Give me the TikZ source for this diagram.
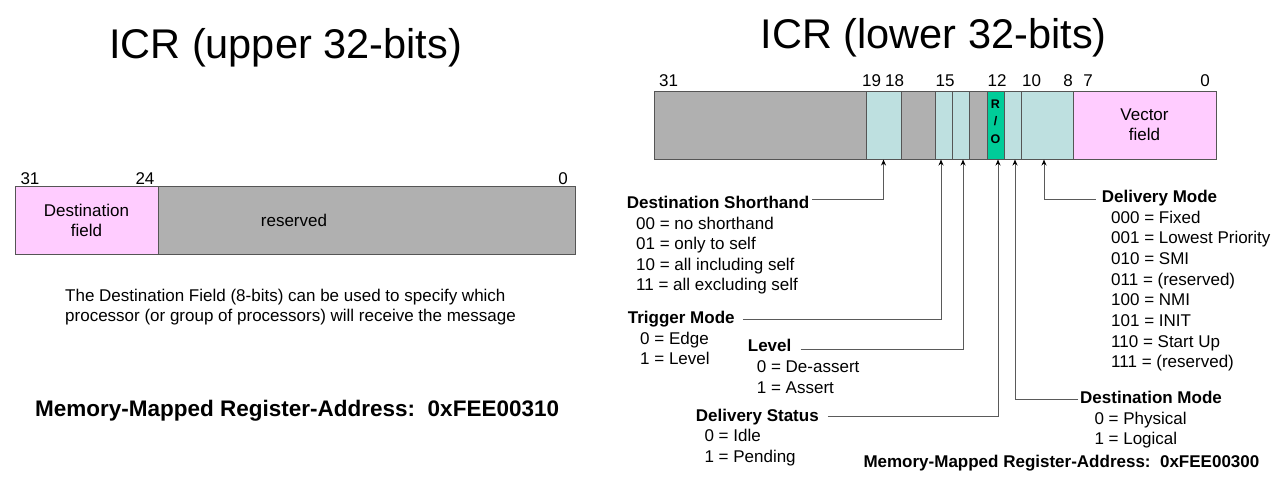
\documentclass[tikz,border=0pt]{standalone}
\usepackage{fontspec}
\setmainfont{Liberation Sans}
\usetikzlibrary{arrows.meta}
\definecolor{regGray}{HTML}{B0B0B0}
\definecolor{regCyan}{HTML}{BEE0E0}
\definecolor{regPink}{HTML}{FFCCFF}
\definecolor{regGreen}{HTML}{00CC99}
\definecolor{edgeC}{HTML}{555555}
\definecolor{lineC}{HTML}{5A5A5A}
\begin{document}
\begin{tikzpicture}[x=1pt,y=-1pt,
  cell/.style={draw=edgeC, line width=1pt, minimum height=68pt, inner sep=0pt, outer sep=0pt,
    align=center, font=\fontsize{17}{20}\selectfont},
  txt/.style={anchor=base west, inner sep=0pt, font=\fontsize{17}{20}\selectfont},
  btxt/.style={anchor=base west, inner sep=0pt, font=\fontsize{17}{20}\selectfont\bfseries},
  bitlbl/.style={anchor=base, inner sep=0pt, font=\fontsize{17}{20}\selectfont},
  titletxt/.style={anchor=base, inner sep=0pt, font=\fontsize{41.5}{48}\selectfont},
  arr/.style={draw=lineC, line width=1pt, shorten >=0.5pt,
    -{Stealth[length=6pt,width=5pt,color=black]}}
]
\useasboundingbox (0,0) rectangle (1282,482);

% titles
\node[titletxt] (t1) at (285.5,58) {ICR (upper 32-bits)};
\node[titletxt] (t2) at (933.7,48) {ICR (lower 32-bits)};

% ---------- upper register ----------
\node[cell, fill=regPink, minimum width=143pt] (l1) at (86.5,220) {Destination\\field};
\node[cell, fill=regGray, minimum width=417pt] (l2) at (366.5,220) {};
\node[bitlbl] (lres) at (294,226) {reserved};
\node[bitlbl] (lb31) at (30,184.3) {31};
\node[bitlbl] (lb24) at (145,184.3) {24};
\node[bitlbl] (lb0) at (563,184.3) {0};

\node[txt] (desc1) at (65,301) {The Destination Field (8-bits) can be used to specify which};
\node[txt] (desc2) at (65,321) {processor (or group of processors) will receive the message};
\node[anchor=base west, inner sep=0pt, font=\fontsize{22.5}{26}\selectfont\bfseries] (mmr1) at (35,416) {Memory-Mapped Register-Address:\ \ 0xFEE00310};

% ---------- lower register ----------
\node[cell, fill=regGray, minimum width=212pt] (c1) at (760,125) {};
\node[cell, fill=regCyan, minimum width=35pt] (c2) at (883.5,125) {};
\node[cell, fill=regGray, minimum width=34pt] (c3) at (918,125) {};
\node[cell, fill=regCyan, minimum width=17pt] (c4) at (943.5,125) {};
\node[cell, fill=regCyan, minimum width=17pt] (c5) at (960.5,125) {};
\node[cell, fill=regGray, minimum width=18pt] (c6) at (978,125) {};
\node[cell, fill=regGreen, minimum width=17pt] (c7) at (995.5,125) {};
\node[cell, fill=regCyan, minimum width=17pt] (c8) at (1012.5,125) {};
\node[cell, fill=regCyan, minimum width=52pt] (c9) at (1047,125) {};
\node[cell, fill=regPink, minimum width=143pt] (c10) at (1144.5,125) {Vector\\field};
\node[inner sep=0pt, align=center, font=\fontsize{12.5}{17.7}\selectfont\bfseries] (ro) at (995.5,121.5) {R\\/\\O};

\node[bitlbl] (rb31) at (668.5,86.7) {31};
\node[bitlbl] (rb19) at (871.5,86.7) {19};
\node[bitlbl] (rb18) at (894.5,86.7) {18};
\node[bitlbl] (rb15) at (945,86.7) {15};
\node[bitlbl] (rb12) at (997,86.7) {12};
\node[bitlbl] (rb10) at (1031.5,86.7) {10};
\node[bitlbl] (rb8) at (1068,86.7) {8};
\node[bitlbl] (rb7) at (1088,86.7) {7};
\node[bitlbl] (rb0) at (1205,86.7) {0};

% Destination Shorthand
\node[btxt] (ds) at (626.7,208.3) {Destination Shorthand};
\foreach \t [count=\i] in {00 = no shorthand, 01 = only to self, 10 = all including self, 11 = all excluding self}
  \node[txt] (ds\i) at (636,229.3+20.35*\i-20.35) {\t};

% Trigger Mode
\node[btxt] (tm) at (627.7,323.7) {Trigger Mode};
\node[txt] (tm1) at (640,344.3) {0 = Edge};
\node[txt] (tm2) at (640,364.3) {1 = Level};

% Level
\node[btxt] (lv) at (747.7,351.7) {Level};
\node[txt] (lv1) at (756.7,372.7) {0 = De-assert};
\node[txt] (lv2) at (756.7,393.3) {1 = Assert};

% Delivery Status
\node[btxt] (dst) at (695.7,421) {Delivery Status};
\node[txt] (dst1) at (704.3,441.7) {0 = Idle};
\node[txt] (dst2) at (704.3,462) {1 = Pending};

% Delivery Mode
\node[btxt] (dlm) at (1101.7,202.7) {Delivery Mode};
\foreach \t [count=\i] in {000 = Fixed, 001 = Lowest Priority, 010 = SMI, 011 = (reserved), 100 = NMI, 101 = INIT, 110 = Start Up, 111 = (reserved)}
  \node[txt] (dlm\i) at (1111,223.3+20.63*\i-20.63) {\t};

% Destination Mode
\node[btxt] (dmo) at (1080,403.7) {Destination Mode};
\node[txt] (dmo1) at (1094.3,424.3) {0 = Physical};
\node[txt] (dmo2) at (1094.3,444.3) {1 = Logical};

\node[btxt] (mmr2) at (863.3,467) {Memory-Mapped Register-Address:\ \ 0xFEE00300};

% connectors
\draw[arr] ([xshift=3pt,yshift=2.8pt]ds.east) -| (c2.south);
\draw[arr] ([xshift=8pt]tm.east) -| ([xshift=-2.5pt]c4.south);
\draw[arr] ([xshift=9pt,yshift=-3.5pt]lv.east) -| ([xshift=2.5pt]c5.south);
\draw[arr] ([xshift=9pt]dst.east) -| ([xshift=2.5pt]c7.south);
\draw[arr] ([xshift=-2pt,yshift=-1.8pt]dmo.west) -| ([xshift=2.5pt]c8.south);
\draw[arr] ([xshift=-6pt,yshift=-1pt]dlm.west) -| ([xshift=-3pt]c9.south);
\end{tikzpicture}
\end{document}
